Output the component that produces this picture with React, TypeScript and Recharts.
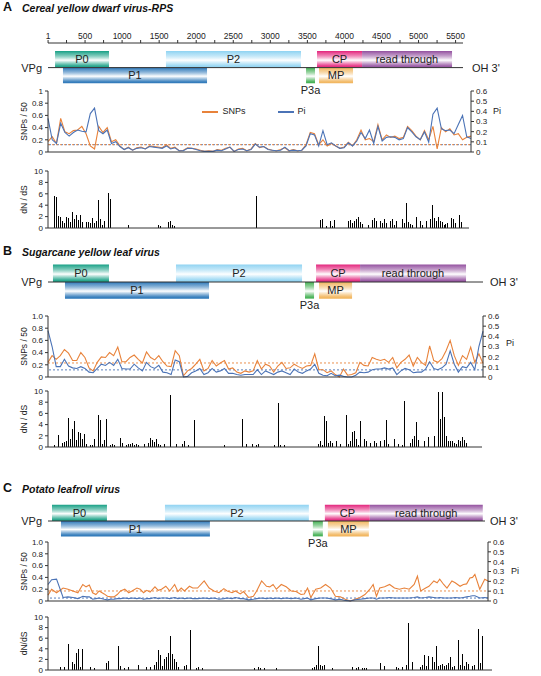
import React from 'react';
import {
  ComposedChart, LineChart, BarChart, Line, Bar, XAxis, YAxis,
  ReferenceArea, ReferenceLine, Legend,
} from 'recharts';

const FONT = '"Liberation Sans", Arial, Helvetica, sans-serif';
const ORANGE = '#e8823a';
const BLUE = '#4b73b6';
const INK = '#222';

// ---------- genome maps ----------
const geneNames = ['P0', 'P1', 'P2', 'P3a', 'CP', 'read through', 'MP'];
const geneUpper = [true, false, true, false, true, true, false];
const geneColors = ['#17a085', '#2a76b8', '#8fd3f2', '#3fae4f', '#e3247c', '#93509f', '#f1b45a'];

const startsA = [95, 202, 1592, 3482, 3630, 4238, 3657];
const endsA = [823, 2146, 3414, 3603, 4238, 5452, 4116];
const startsB = [67, 229, 1727, 3468, 3617, 4211, 3657];
const endsB = [823, 2173, 3428, 3590, 4211, 5641, 4103];
const startsC = [54, 175, 1579, 3576, 3738, 4345, 3779];
const endsC = [796, 2186, 3522, 3711, 4345, 5870, 4332];

const axisTicksA = [1, 250, 500, 750, 1000, 1250, 1500, 1750, 2000, 2250, 2500, 2750, 3000, 3250, 3500, 3750, 4000, 4250, 4500, 4750, 5000, 5250, 5500];

// ---------- SNPs / Pi ----------
const snpA = [0.17, 0.25, 0.14, 0.55, 0.33, 0.30, 0.35, 0.36, 0.42, 0.30, 0.10, 0.05, 0.42, 0.32, 0.40, 0.17, 0.20, 0.10, 0.04, 0.08, 0.03, 0.07, 0.08, 0.05, 0.10, 0.09, 0.08, 0.07, 0.12, 0.06, 0.08, 0.02, 0.03, 0.07, 0.06, 0.05, 0.03, 0.01, 0.02, 0.01, 0.04, 0.03, 0.06, 0.08, 0.01, 0.05, 0.06, 0.02, 0.05, 0.14, 0.07, 0.09, 0.05, 0.03, 0.02, 0.04, 0.07, 0.02, 0.04, 0.02, 0.03, 0.12, 0.32, 0.30, 0.12, 0.20, 0.10, 0.14, 0.10, 0.06, 0.08, 0.16, 0.10, 0.20, 0.36, 0.20, 0.22, 0.17, 0.45, 0.20, 0.28, 0.24, 0.26, 0.22, 0.24, 0.42, 0.35, 0.26, 0.20, 0.35, 0.20, 0.42, 0.05, 0.40, 0.33, 0.38, 0.28, 0.30, 0.20, 0.24, 0.26];
const piA = [0.33, 0.12, 0.084, 0.282, 0.192, 0.156, 0.192, 0.216, 0.204, 0.198, 0.378, 0.432, 0.21, 0.18, 0.216, 0.084, 0.102, 0.054, 0.024, 0.042, 0.018, 0.036, 0.042, 0.03, 0.054, 0.048, 0.042, 0.036, 0.06, 0.03, 0.042, 0.012, 0.012, 0.036, 0.036, 0.024, 0.012, 0.006, 0.006, 0.006, 0.018, 0.012, 0.03, 0.048, 0.006, 0.024, 0.03, 0.012, 0.024, 0.078, 0.048, 0.054, 0.024, 0.018, 0.012, 0.018, 0.048, 0.012, 0.018, 0.012, 0.018, 0.06, 0.18, 0.168, 0.06, 0.21, 0.072, 0.09, 0.06, 0.036, 0.042, 0.09, 0.06, 0.108, 0.192, 0.132, 0.216, 0.084, 0.252, 0.108, 0.144, 0.15, 0.144, 0.12, 0.132, 0.24, 0.198, 0.15, 0.12, 0.198, 0.096, 0.372, 0.432, 0.228, 0.21, 0.216, 0.18, 0.27, 0.36, 0.15, 0.132];

const snpB = [0.24, 0.35, 0.29, 0.35, 0.45, 0.39, 0.27, 0.27, 0.40, 0.32, 0.15, 0.10, 0.24, 0.33, 0.32, 0.40, 0.35, 0.49, 0.25, 0.25, 0.32, 0.36, 0.29, 0.23, 0.41, 0.32, 0.28, 0.35, 0.25, 0.18, 0.17, 0.43, 0.35, 0.02, 0.10, 0.14, 0.21, 0.29, 0.10, 0.14, 0.27, 0.18, 0.23, 0.27, 0.13, 0.15, 0.08, 0.06, 0.10, 0.08, 0.10, 0.27, 0.13, 0.21, 0.18, 0.08, 0.18, 0.24, 0.14, 0.15, 0.21, 0.17, 0.14, 0.18, 0.19, 0.38, 0.12, 0.12, 0.07, 0.10, 0.04, 0.00, 0.13, 0.03, 0.04, 0.07, 0.24, 0.19, 0.18, 0.32, 0.29, 0.27, 0.29, 0.24, 0.32, 0.15, 0.24, 0.29, 0.36, 0.18, 0.32, 0.24, 0.19, 0.51, 0.27, 0.24, 0.30, 0.43, 0.60, 0.35, 0.19, 0.35, 0.29, 0.49, 0.24, 0.38, 0.22];
const piB = [0.456, 0.30, 0.102, 0.102, 0.174, 0.108, 0.09, 0.084, 0.102, 0.084, 0.048, 0.042, 0.084, 0.126, 0.114, 0.144, 0.114, 0.174, 0.084, 0.078, 0.078, 0.126, 0.09, 0.06, 0.144, 0.102, 0.084, 0.114, 0.048, 0.042, 0.024, 0.168, 0.15, 0.0, 0.006, 0.042, 0.06, 0.084, 0.024, 0.042, 0.084, 0.048, 0.06, 0.084, 0.036, 0.036, 0.024, 0.018, 0.024, 0.024, 0.024, 0.072, 0.024, 0.06, 0.042, 0.024, 0.048, 0.06, 0.042, 0.024, 0.078, 0.048, 0.036, 0.06, 0.078, 0.126, 0.036, 0.018, 0.012, 0.036, 0.012, 0.018, 0.006, 0.0, 0.0, 0.018, 0.048, 0.042, 0.048, 0.072, 0.078, 0.078, 0.09, 0.078, 0.09, 0.024, 0.06, 0.084, 0.072, 0.042, 0.048, 0.048, 0.078, 0.15, 0.084, 0.072, 0.09, 0.126, 0.258, 0.126, 0.048, 0.102, 0.09, 0.144, 0.072, 0.30, 0.45];

const posC = [0, 50, 117, 207, 274, 342, 410, 477, 522, 567, 612, 657, 702, 770, 815, 860, 905, 950, 995, 1053, 1107, 1152, 1220, 1265, 1310, 1355, 1400, 1467, 1512, 1557, 1616, 1670, 1737, 1782, 1827, 1872, 1940, 1985, 2052, 2142, 2210, 2277, 2345, 2412, 2457, 2525, 2570, 2637, 2682, 2750, 2817, 2862, 2930, 2997, 3042, 3087, 3132, 3200, 3267, 3335, 3402, 3470, 3515, 3560, 3605, 3672, 3740, 3807, 3875, 3942, 4010, 4077, 4145, 4212, 4280, 4347, 4415, 4460, 4505, 4550, 4617, 4685, 4752, 4820, 4887, 4955, 5022, 5067, 5112, 5180, 5225, 5292, 5337, 5373, 5427, 5472, 5540, 5585, 5652, 5697, 5742, 5787, 5823, 5855, 5922, 5990, 6035];
const snpC = [0.10, 0.20, 0.14, 0.22, 0.20, 0.17, 0.14, 0.28, 0.24, 0.27, 0.14, 0.11, 0.17, 0.12, 0.08, 0.07, 0.07, 0.11, 0.17, 0.20, 0.14, 0.17, 0.22, 0.20, 0.14, 0.18, 0.15, 0.24, 0.18, 0.20, 0.25, 0.17, 0.28, 0.16, 0.22, 0.17, 0.25, 0.22, 0.22, 0.34, 0.22, 0.17, 0.14, 0.21, 0.17, 0.14, 0.17, 0.12, 0.16, 0.06, 0.08, 0.17, 0.34, 0.25, 0.24, 0.28, 0.20, 0.28, 0.24, 0.17, 0.16, 0.11, 0.12, 0.22, 0.06, 0.20, 0.22, 0.28, 0.22, 0.08, 0.07, 0.03, 0.00, 0.03, 0.06, 0.11, 0.20, 0.28, 0.08, 0.22, 0.24, 0.28, 0.22, 0.20, 0.22, 0.20, 0.28, 0.42, 0.17, 0.22, 0.25, 0.34, 0.31, 0.37, 0.28, 0.22, 0.34, 0.31, 0.25, 0.28, 0.29, 0.39, 0.40, 0.45, 0.20, 0.37, 0.34];
const piC = [0.168, 0.216, 0.222, 0.036, 0.042, 0.036, 0.024, 0.048, 0.042, 0.042, 0.018, 0.024, 0.03, 0.018, 0.012, 0.018, 0.018, 0.024, 0.024, 0.03, 0.024, 0.03, 0.024, 0.03, 0.018, 0.024, 0.024, 0.036, 0.024, 0.03, 0.03, 0.024, 0.036, 0.024, 0.03, 0.024, 0.03, 0.024, 0.024, 0.03, 0.024, 0.03, 0.018, 0.024, 0.03, 0.024, 0.036, 0.024, 0.024, 0.012, 0.018, 0.024, 0.03, 0.024, 0.03, 0.024, 0.03, 0.024, 0.03, 0.024, 0.03, 0.018, 0.024, 0.03, 0.012, 0.024, 0.03, 0.03, 0.024, 0.012, 0.018, 0.006, 0, 0.012, 0.018, 0.024, 0.03, 0.03, 0.018, 0.03, 0.03, 0.036, 0.03, 0.03, 0.03, 0.03, 0.036, 0.042, 0.03, 0.036, 0.042, 0.036, 0.03, 0.036, 0.03, 0.03, 0.03, 0.036, 0.03, 0.036, 0.042, 0.048, 0.054, 0.054, 0.03, 0.036, 0.03];

const meanSnp = [0.12, 0.23, 0.17];
const meanPi = [0.072, 0.07, 0.03];

const snpTicks = [0, 0.2, 0.4, 0.6, 0.8, 1];
const piTicks = [0, 0.1, 0.2, 0.3, 0.4, 0.5, 0.6];
const dndsTicks = [0, 2, 4, 6, 8, 10];

// ---------- dN/dS (bin, value) ----------
const dndsA: [number, number][] = [[3, 5.6], [4, 5.5], [5, 2.1], [6, 2.0], [7, 1.3], [8, 0.8], [9, 2.0], [10, 1.8], [11, 1.0], [12, 2.8], [13, 1.5], [14, 2.2], [15, 1.4], [16, 2.3], [17, 1.0], [19, 1.1], [20, 1.0], [21, 0.9], [22, 1.8], [23, 0.8], [24, 1.3], [25, 5.0], [26, 1.6], [27, 0.5], [28, 1.2], [30, 6.1], [31, 5.1], [40, 0.5], [55, 0.6], [56, 0.4], [60, 1.0], [61, 1.3], [62, 0.6], [63, 0.3], [104, 5.7], [136, 1.4], [137, 1.5], [139, 0.4], [141, 1.2], [142, 0.4], [143, 1.4], [150, 1.3], [151, 1.4], [152, 0.8], [153, 1.2], [154, 1.5], [155, 1.9], [156, 1.0], [157, 0.7], [160, 0.6], [162, 1.4], [163, 1.7], [164, 1.2], [166, 1.3], [167, 0.8], [168, 1.5], [169, 0.9], [171, 1.2], [172, 1.5], [173, 0.6], [174, 1.3], [177, 1.6], [178, 0.8], [179, 4.3], [180, 1.0], [181, 0.7], [182, 0.6], [184, 2.0], [186, 1.3], [187, 0.6], [189, 1.3], [191, 1.5], [192, 4.0], [193, 1.7], [194, 1.3], [195, 1.9], [196, 1.2], [197, 1.0], [198, 0.6], [199, 0.7], [200, 0.8], [202, 1.7], [203, 1.6], [204, 0.8], [206, 2.2], [207, 1.0]];
const dndsB: [number, number][] = [[3, 0.4], [5, 2.2], [7, 0.7], [8, 0.9], [9, 1.0], [10, 5.2], [11, 1.5], [12, 3.3], [13, 4.7], [14, 1.2], [15, 2.6], [16, 2.5], [17, 1.5], [18, 2.4], [19, 0.6], [21, 0.4], [22, 0.4], [23, 1.5], [25, 5.8], [26, 4.8], [27, 0.5], [28, 1.3], [29, 5.0], [31, 0.4], [32, 0.5], [33, 0.3], [36, 1.6], [37, 0.8], [39, 0.4], [40, 0.6], [41, 0.5], [42, 0.7], [43, 0.3], [44, 0.6], [45, 0.4], [48, 0.5], [50, 0.8], [51, 1.6], [52, 1.2], [53, 0.9], [54, 1.4], [55, 0.6], [56, 0.3], [58, 0.5], [61, 9.3], [64, 0.5], [67, 0.6], [68, 1.0], [70, 0.4], [73, 4.8], [88, 0.4], [97, 5.0], [99, 0.5], [102, 0.6], [104, 0.3], [105, 0.5], [113, 0.3], [115, 7.9], [116, 0.4], [118, 0.3], [135, 0.6], [136, 1.0], [137, 0.4], [138, 5.5], [139, 4.7], [140, 0.8], [141, 1.0], [142, 0.8], [144, 1.1], [146, 0.6], [149, 5.8], [150, 0.5], [151, 1.0], [152, 2.6], [153, 2.9], [154, 1.5], [155, 0.4], [156, 4.7], [158, 1.5], [159, 1.0], [161, 0.8], [163, 1.1], [164, 0.8], [166, 1.1], [168, 1.2], [169, 4.8], [170, 0.6], [173, 1.4], [175, 0.5], [177, 0.4], [178, 8.2], [181, 0.8], [182, 1.5], [183, 2.0], [184, 4.5], [185, 1.2], [188, 1.0], [190, 1.8], [193, 2.0], [195, 9.8], [196, 5.0], [197, 9.8], [198, 5.3], [199, 2.0], [200, 1.0], [201, 1.1], [202, 1.0], [203, 0.8], [204, 0.6], [205, 1.2], [206, 1.0], [207, 1.7], [208, 1.2], [209, 0.7]];
const dndsC: [number, number][] = [[6, 0.5], [8, 0.5], [10, 5.0], [12, 1.5], [13, 1.2], [14, 3.2], [15, 4.0], [16, 0.5], [17, 4.0], [21, 0.6], [23, 0.3], [29, 1.3], [30, 1.7], [35, 4.5], [36, 0.8], [38, 0.4], [40, 0.6], [45, 1.0], [49, 0.5], [51, 0.6], [53, 1.0], [54, 1.5], [55, 3.7], [56, 2.8], [57, 0.8], [58, 2.0], [59, 2.5], [60, 3.2], [61, 6.4], [62, 3.0], [63, 2.0], [64, 1.5], [65, 0.6], [68, 0.8], [69, 0.9], [71, 7.5], [74, 0.4], [75, 0.5], [77, 0.4], [103, 0.4], [105, 0.5], [106, 0.3], [108, 0.4], [114, 0.3], [132, 0.4], [133, 0.6], [134, 1.0], [135, 4.5], [136, 1.0], [137, 0.8], [138, 1.0], [142, 0.4], [152, 0.5], [154, 0.4], [155, 0.5], [157, 0.4], [158, 0.4], [159, 0.3], [166, 1.3], [168, 0.8], [174, 0.6], [175, 0.3], [177, 0.5], [179, 1.0], [180, 8.9], [182, 1.5], [186, 0.6], [187, 1.0], [188, 2.8], [189, 0.8], [190, 2.6], [192, 2.5], [193, 1.5], [194, 4.5], [195, 0.8], [196, 1.0], [197, 1.2], [198, 0.8], [199, 1.0], [200, 1.3], [201, 2.5], [202, 0.6], [203, 0.8], [205, 5.7], [206, 1.0], [207, 3.0], [208, 0.7], [209, 1.5], [210, 1.2], [212, 0.8], [213, 1.0], [215, 7.7], [216, 1.3], [217, 6.4]];

// ---------- components ----------
type MapProps = {
  id: string; top: number; plotTop: number; plotBottom: number; lineY: number; unit: number;
  plotRight: number; xMax: number; starts: number[]; ends: number[]; axis?: boolean; ohOffset: number;
};

function GenomeMap(p: MapProps) {
  const height = p.plotBottom - p.top + 18;
  const axisH = p.axis ? p.plotTop - p.top : 0;
  const mt = p.axis ? 0 : p.plotTop - p.top;
  const mb = height - (p.plotBottom - p.top);
  const yDomain = [-(p.plotBottom - p.lineY) / p.unit, (p.lineY - p.plotTop) / p.unit];
  return (
    <div style={{ position: 'absolute', left: 0, top: p.top }}>
      <ComposedChart width={541} height={height} data={[{ x: 0 }, { x: p.xMax }]}
        margin={{ top: mt, right: 541 - p.plotRight, bottom: mb, left: 48 }}>
        <defs>
          {geneColors.map((c, i) => (
            <linearGradient key={i} id={`${p.id}g${i}`} x1="0" y1="0" x2="0" y2="1">
              <stop offset="0" stopColor={c} stopOpacity={1} />
              <stop offset="0.15" stopColor={c} stopOpacity={0.75} />
              <stop offset="0.55" stopColor="#ffffff" stopOpacity={1} />
              <stop offset="0.9" stopColor={c} stopOpacity={0.9} />
              <stop offset="1" stopColor={c} stopOpacity={1} />
            </linearGradient>
          ))}
        </defs>
        <XAxis type="number" dataKey="x" domain={[0, p.xMax]} orientation="top" hide={!p.axis}
          height={axisH} ticks={axisTicksA} interval={0} allowDataOverflow
          tickFormatter={(v: number) => (v === 1 ? '1' : v % 500 === 0 ? String(v) : '')}
          tickSize={3} tickMargin={1} tick={{ fontSize: 8.5, fill: INK }}
          axisLine={{ stroke: '#333' }} tickLine={{ stroke: '#333' }} />
        <YAxis type="number" domain={yDomain} hide allowDataOverflow />
        {geneNames.map((g, i) => (
          <ReferenceArea key={g} x1={p.starts[i]} x2={p.ends[i]}
            y1={geneUpper[i] ? 0 : -0.95} y2={geneUpper[i] ? 1 : 0}
            fill={`url(#${p.id}g${i})`} fillOpacity={1} stroke="none" ifOverflow="visible"
            label={{ value: g, position: g === 'P3a' ? 'bottom' : 'center', offset: 3, fill: INK, fontSize: 11 }} />
        ))}
        <ReferenceLine y={0} stroke="#333" strokeWidth={1}
          label={{ value: 'VPg', position: 'left', offset: 6, fill: INK, fontSize: 11 }} />
        <ReferenceLine y={0} stroke="none"
          label={{ value: "OH 3'", position: 'right', offset: p.ohOffset, fill: INK, fontSize: 11 }} />
      </ComposedChart>
    </div>
  );
}

type DivProps = {
  top: number; plotTop: number; plotBottom: number; plotRight: number;
  xs: number[]; snp: number[]; pi: number[]; snpMean: number; piMean: number;
  oneLabel: string; legend?: boolean;
};

function DiversityChart(p: DivProps) {
  const data = p.snp.map((v, i) => ({ x: p.xs[i], snp: v, pi: p.pi[i] }));
  const xh = 2;
  const mb = 2;
  const H = p.plotBottom - p.top + xh + mb;
  return (
    <div style={{ position: 'absolute', left: 0, top: p.top }}>
      <LineChart width={541} height={H} data={data}
        margin={{ top: p.plotTop - p.top, right: 0, bottom: mb, left: 0 }}>
        <XAxis type="number" dataKey="x" domain={[p.xs[0], p.xs[p.xs.length - 1]]} tick={false}
          tickLine={false} height={xh} axisLine={{ stroke: '#333' }} />
        <YAxis yAxisId="l" width={48} domain={[0, 1]} ticks={snpTicks} interval={0}
          tickFormatter={(v: number) => (v === 0 ? '0' : v === 1 ? p.oneLabel : v.toFixed(1))}
          tickSize={3} tickMargin={2} tick={{ fontSize: 8, fill: INK }}
          axisLine={{ stroke: '#333' }} tickLine={{ stroke: '#333' }}
          label={{ value: 'SNPs / 50', angle: -90, position: 'insideLeft', offset: 24,
            style: { textAnchor: 'middle', fontSize: 8.5, fill: INK } }} />
        <YAxis yAxisId="r" orientation="right" width={541 - p.plotRight} domain={[0, 0.6]}
          ticks={piTicks} interval={0}
          tickFormatter={(v: number) => (v === 0 ? '0' : v.toFixed(1))}
          tickSize={3} tickMargin={2} tick={{ fontSize: 8, fill: INK }}
          axisLine={{ stroke: '#333' }} tickLine={{ stroke: '#333' }} />
        <ReferenceLine yAxisId="r" y={p.piMean} stroke={BLUE} strokeDasharray="2 2" strokeWidth={0.9} />
        <ReferenceLine yAxisId="l" y={p.snpMean} stroke={ORANGE} strokeDasharray="2 2" strokeWidth={0.9} />
        <Line yAxisId="l" type="linear" dataKey="snp" name="SNPs" stroke={ORANGE} strokeWidth={1.1}
          dot={false} isAnimationActive={false} />
        <Line yAxisId="r" type="linear" dataKey="pi" name="Pi" stroke={BLUE} strokeWidth={1.1}
          dot={false} isAnimationActive={false} />
        {p.legend && (
          <Legend verticalAlign="middle" align="center" layout="horizontal" iconType="plainline"
            iconSize={16}
            itemSorter={(e: any) => (e.value === 'SNPs' ? 0 : 1)}
            wrapperStyle={{ position: 'absolute', left: 190, top: 24, width: 160, fontSize: 9, lineHeight: '12px', textAlign: 'left' }}
            formatter={(value: string) => (
              <span style={{ color: INK, marginRight: 22 }}>{value}</span>
            )} />
        )}
      </LineChart>
    </div>
  );
}

type DndsProps = {
  top: number; plotTop: number; plotBottom: number; plotRight: number;
  bins: number; spikes: [number, number][]; label: string;
};

function DnDsChart(p: DndsProps) {
  const data = Array.from({ length: p.bins }, (_, i) => ({ bin: i, v: 0 }));
  p.spikes.forEach(([b, v]) => { if (b < p.bins) data[b].v = v; });
  const xh = 2;
  const mb = 2;
  const H = p.plotBottom - p.top + xh + mb;
  return (
    <div style={{ position: 'absolute', left: 0, top: p.top }}>
      <BarChart width={541} height={H} data={data} barCategoryGap="22%"
        margin={{ top: p.plotTop - p.top, right: 541 - p.plotRight, bottom: mb, left: 0 }}>
        <XAxis dataKey="bin" tick={false} tickLine={false} height={xh} axisLine={{ stroke: '#333' }} />
        <YAxis width={48} domain={[0, 10]} ticks={dndsTicks} interval={0} allowDataOverflow
          tickSize={3} tickMargin={2} tick={{ fontSize: 8, fill: INK }}
          axisLine={{ stroke: '#333' }} tickLine={{ stroke: '#333' }}
          label={{ value: p.label, angle: -90, position: 'insideLeft', offset: 24,
            style: { textAnchor: 'middle', fontSize: 8.5, fill: INK } }} />
        <Bar dataKey="v" fill="#000" shapeRendering="crispEdges" isAnimationActive={false} />
      </BarChart>
    </div>
  );
}

function PanelTitle({ letter, title, top }: { letter: string; title: string; top: number }) {
  return (
    <>
      <div style={{ position: 'absolute', left: 3, top, fontSize: 12.5, fontWeight: 'bold', lineHeight: '13px', color: '#111' }}>{letter}</div>
      <div style={{ position: 'absolute', left: 22, top: top + 1.5, fontSize: 10.5, fontWeight: 'bold', fontStyle: 'italic', lineHeight: '11px', color: '#111' }}>{title}</div>
    </>
  );
}

function PiLabel({ left, top }: { left: number; top: number }) {
  return <div style={{ position: 'absolute', left, top, fontSize: 9, lineHeight: '10px', color: INK }}>Pi</div>;
}

const idxA = snpA.map((_, i) => i);
const idxB = snpB.map((_, i) => i);

export default function App() {
  return (
    <div style={{ position: 'absolute', left: 0, top: 0, width: 541, height: 676, background: '#fff', fontFamily: FONT, overflow: 'hidden' }}>
      <PanelTitle letter="A" title="Cereal yellow dwarf virus-RPS" top={1} />
      <GenomeMap id="a" top={20} plotTop={43} plotBottom={85} lineY={67.6} unit={16.5}
        plotRight={463} xMax={5600} starts={startsA} ends={endsA} axis ohOffset={9} />
      <DiversityChart top={80} plotTop={91} plotBottom={152} plotRight={471}
        xs={idxA} snp={snpA} pi={piA} snpMean={meanSnp[0]} piMean={meanPi[0]} oneLabel="1" legend />
      <PiLabel left={493} top={106} />
      <DnDsChart top={162} plotTop={171} plotBottom={228} plotRight={469} bins={211} spikes={dndsA} label="dN / dS" />

      <PanelTitle letter="B" title="Sugarcane yellow leaf virus" top={245} />
      <GenomeMap id="b" top={255} plotTop={262} plotBottom={301} lineY={282} unit={17.5}
        plotRight={483} xMax={5870} starts={startsB} ends={endsB} ohOffset={7} />
      <DiversityChart top={305} plotTop={316} plotBottom={377} plotRight={483}
        xs={idxB} snp={snpB} pi={piB} snpMean={meanSnp[1]} piMean={meanPi[1]} oneLabel="1.0" />
      <PiLabel left={506} top={338} />
      <DnDsChart top={383} plotTop={391} plotBottom={447} plotRight={482} bins={217} spikes={dndsB} label="dN / dS" />

      <PanelTitle letter="C" title="Potato leafroll virus" top={482} />
      <GenomeMap id="c" top={496} plotTop={503} plotBottom={540} lineY={521} unit={16.2}
        plotRight={485} xMax={5900} starts={startsC} ends={endsC} ohOffset={5} />
      <DiversityChart top={531} plotTop={542} plotBottom={601} plotRight={488}
        xs={posC} snp={snpC} pi={piC} snpMean={meanSnp[2]} piMean={meanPi[2]} oneLabel="1.0" />
      <PiLabel left={511} top={566} />
      <DnDsChart top={609} plotTop={617} plotBottom={670} plotRight={492} bins={222} spikes={dndsC} label="dN/dS" />
    </div>
  );
}
